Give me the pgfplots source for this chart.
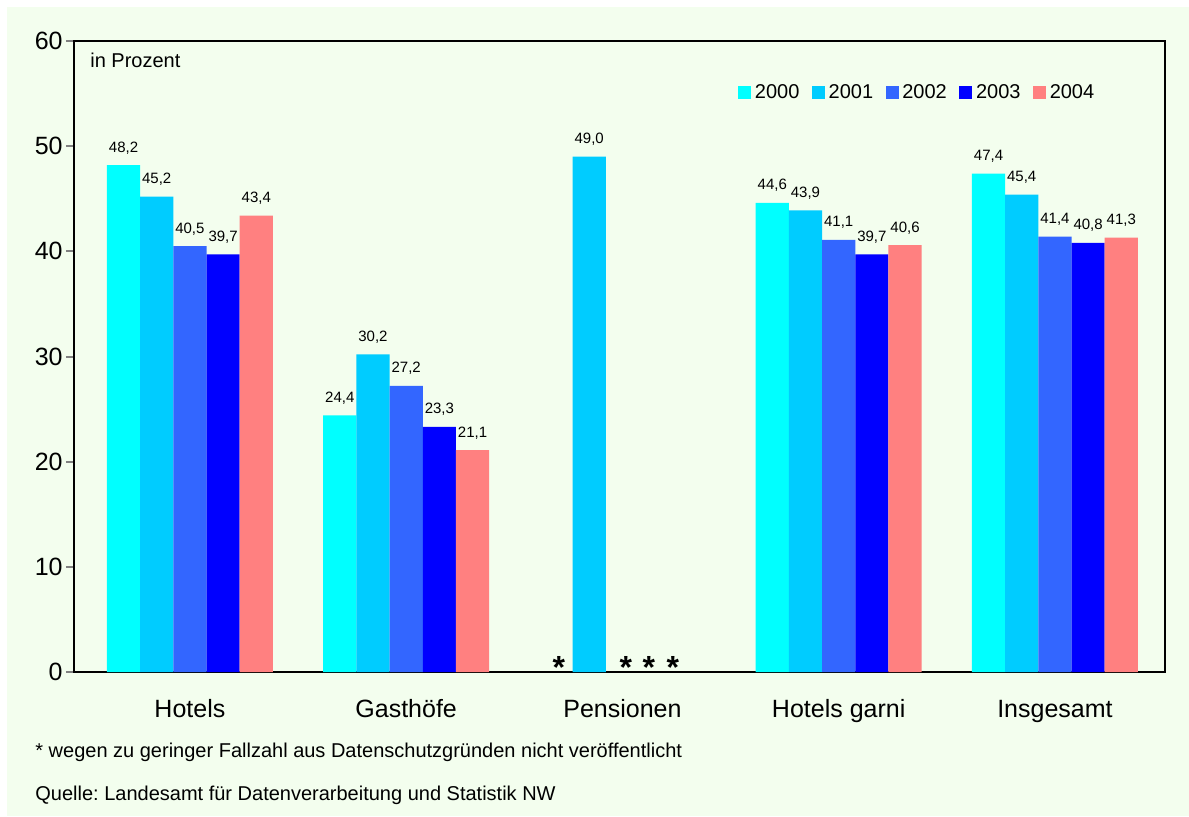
\documentclass[border=0pt]{standalone}
\usepackage{pgfplots}
\pgfplotsset{compat=1.18}
\usepackage{fontspec}
\setmainfont{Liberation Sans}
\frenchspacing
\definecolor{bg}{RGB}{243,254,238}
\definecolor{cA}{RGB}{0,255,255}
\definecolor{cB}{RGB}{0,204,255}
\definecolor{cC}{RGB}{51,102,255}
\definecolor{cD}{RGB}{0,0,255}
\definecolor{cE}{RGB}{255,128,128}
\definecolor{tickgray}{RGB}{128,128,128}
\begin{document}
\begin{tikzpicture}
\fill[white] (-37pt,-72pt) rectangle (557.5pt,336pt);
\fill[bg] (-33.5pt,-72pt) rectangle (557.5pt,332.5pt);
\begin{axis}[
  at={(0,0)}, anchor=south west,
  scale only axis, width=545.5pt, height=315.5pt,
  xmin=-0.536, xmax=4.509, ymin=0, ymax=60,
  clip=false,
  axis line style={black, line width=1pt},
  ytick={0,10,...,60},
  xtick={0,1,2,3,4},
  xticklabels={Hotels, Gasthöfe, Pensionen, Hotels garni, Insgesamt},
  x tick style={draw=none},
  y tick style={tickgray, line width=1pt},
  tick align=outside,
  major tick length=4pt,
  ytick pos=left, xtick pos=bottom,
  tick label style={font=\fontsize{12.5}{14}\selectfont},
  yticklabel style={inner sep=1.5pt},
  xticklabel style={anchor=base, inner sep=0pt, yshift=-18.5pt},
  /pgf/number format/assume math mode=true,
  ybar, bar width=0.1535,
  legend columns=5,
  legend style={at={(0.6086,0.9176)}, anchor=west, draw=none, fill=none,
    inner sep=0pt, font=\fontsize{10}{12}\selectfont,
    nodes={inner sep=1.8pt},
    /tikz/every even column/.append style={column sep=4.5pt}},
  legend image code/.code={\fill[#1] (0pt,-3.25pt) rectangle (6.5pt,3.25pt);},
  nodes near coords={\pgfmathprintnumber[fixed,fixed zerofill,precision=1,use comma]{\pgfplotspointmeta}},
  every node near coord/.append style={font=\fontsize{7.5}{9}\selectfont, anchor=base, inner sep=0pt, yshift=6.5pt, text=black},
]
\addplot[draw=none, fill=cA, bar shift=-0.307] coordinates {(0,48.2) (1,24.4) (3,44.6) (4,47.4)};
\addplot[draw=none, fill=cB, bar shift=-0.1535] coordinates {(0,45.2) (1,30.2) (2,49.0) (3,43.9) (4,45.4)};
\addplot[draw=none, fill=cC, bar shift=0] coordinates {(0,40.5) (1,27.2) (3,41.1) (4,41.4)};
\addplot[draw=none, fill=cD, bar shift=0.1535] coordinates {(0,39.7) (1,23.3) (3,39.7) (4,40.8)};
\addplot[draw=none, fill=cE, bar shift=0.307] coordinates {(0,43.4) (1,21.1) (3,40.6) (4,41.3)};
\legend{2000,2001,2002,2003,2004}
\node[anchor=base, inner sep=0pt, yshift=-3pt, font=\bfseries\fontsize{16}{18}\selectfont] at (axis cs:1.706,0) {*};
\node[anchor=base, inner sep=0pt, yshift=-3pt, font=\bfseries\fontsize{16}{18}\selectfont] at (axis cs:2.016,0) {*};
\node[anchor=base, inner sep=0pt, yshift=-3pt, font=\bfseries\fontsize{16}{18}\selectfont] at (axis cs:2.122,0) {*};
\node[anchor=base, inner sep=0pt, yshift=-3pt, font=\bfseries\fontsize{16}{18}\selectfont] at (axis cs:2.233,0) {*};
\end{axis}
\node[anchor=west, inner sep=0pt, font=\fontsize{10}{12}\selectfont] at (8pt,306pt) {in Prozent};
\node[anchor=west, inner sep=0pt, font=\fontsize{10}{12}\selectfont] at (-19.5pt,-40pt) {* wegen zu geringer Fallzahl aus Datenschutzgründen nicht veröffentlicht};
\node[anchor=west, inner sep=0pt, font=\fontsize{10}{12}\selectfont] at (-19.5pt,-61.5pt) {Quelle: Landesamt für Datenverarbeitung und Statistik NW};
\end{tikzpicture}
\end{document}
